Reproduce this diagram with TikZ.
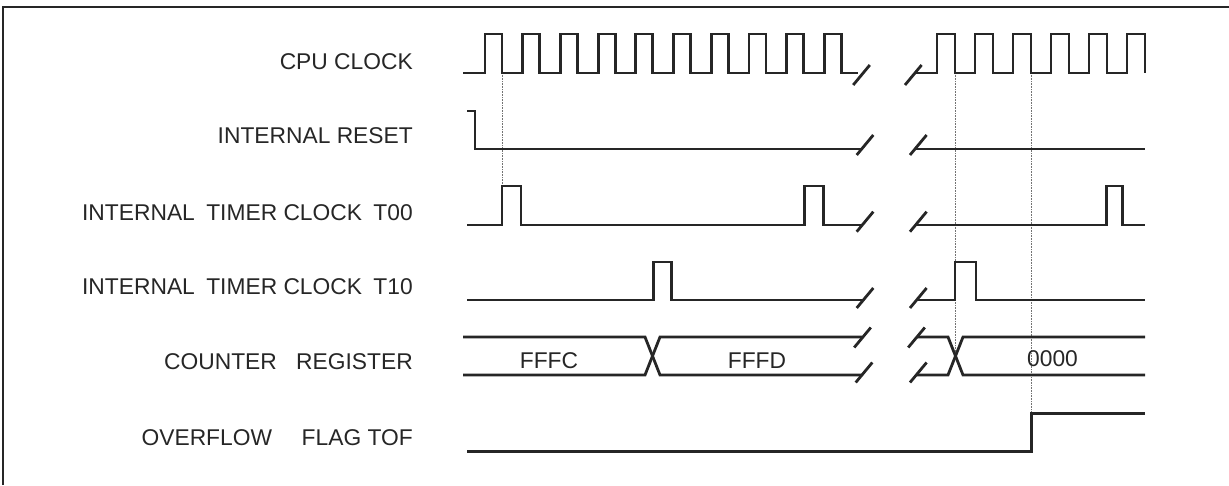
\documentclass[tikz,border=0pt]{standalone}
\usepackage{fontspec}
\setmainfont{Liberation Sans}
\begin{document}
\begin{tikzpicture}[x=1pt,y=-1pt,
  sig/.style={line width=2.8pt,color=black!85,line join=miter,line cap=butt},
  brk/.style={line width=2.8pt,color=black!85},
  guide/.style={line width=1pt,color=black!55,dash pattern=on 0.8pt off 0.8pt},
  lbl/.style={anchor=base east,inner sep=0pt,font=\fontsize{22.8}{27}\selectfont,text=black!85},
  val/.style={anchor=base,inner sep=0pt,font=\fontsize{22.8}{27}\selectfont,text=black!85},
  frame/.style={line width=2.8pt,color=black!85}]
\useasboundingbox (0,0) rectangle (1229,485);
\newcommand{\brkmark}[2]{\draw[brk] (#1-8.3,#2+10) -- (#1+8.3,#2-10);}
% frame
\draw[frame] (3,485) -- (3,7) -- (1229,7);
% labels
\node[lbl] (lcpu) at (413,69.5) {CPU CLOCK};
\node[lbl] (lrst) at (413,143.5) {INTERNAL RESET};
\node[lbl] (lt00) at (413,220.5) {INTERNAL\hspace{0.5em}TIMER CLOCK\hspace{0.5em}T00};
\node[lbl] (lt10) at (413,294.5) {INTERNAL\hspace{0.5em}TIMER CLOCK\hspace{0.5em}T10};
\node[lbl] (lcnt) at (413,369.5) {COUNTER\hspace{0.85em}REGISTER};
\node[lbl] (ltof) at (413,445.5) {OVERFLOW\hspace{1.3em}FLAG TOF};
% guides
\draw[guide] (502,73) -- (502,186);
\draw[guide] (955,73) -- (955,356);
\draw[guide] (1031.7,73) -- (1031.7,413);
% CPU clock
\draw[sig] (463,73)
  \foreach \k in {0,...,9} { -- ({485+37.7*\k},73) -- ({485+37.7*\k},34) -- ({502+37.7*\k},34) -- ({502+37.7*\k},73) }
  -- (858,73);
\draw[sig] (916,73)
  \foreach \k in {0,...,5} { -- ({937+38*\k},73) -- ({937+38*\k},34) -- ({955+38*\k},34) -- ({955+38*\k},73) };
\brkmark{861.5}{75}
\brkmark{913.3}{75}
% internal reset
\draw[sig] (467,111) -- (475,111) -- (475,149) -- (861,149);
\draw[sig] (915,149) -- (1145,149);
\brkmark{865}{145}
\brkmark{918.3}{145}
% T00
\draw[sig] (467,225) -- (502,225) -- (502,186) -- (521,186) -- (521,225)
  -- (804.3,225) -- (804.3,186) -- (823.3,186) -- (823.3,225) -- (861,225);
\draw[sig] (915,225) -- (1106.7,225) -- (1106.7,186) -- (1122.7,186) -- (1122.7,225) -- (1145,225);
\brkmark{865}{221.7}
\brkmark{918.3}{221.7}
% T10
\draw[sig] (467,300) -- (653.3,300) -- (653.3,262) -- (671.7,262) -- (671.7,300) -- (862,300);
\draw[sig] (916,300) -- (955,300) -- (955,262) -- (976,262) -- (976,300) -- (1145,300);
\brkmark{865}{298}
\brkmark{918.3}{298}
% counter register
\draw[sig] (463,337) -- (645,337) -- (660,375) -- (862,375);
\draw[sig] (463,375) -- (645,375) -- (660,337) -- (862,337);
\draw[sig] (917,337) -- (948,337) -- (963,375) -- (1145,375);
\draw[sig] (917,375) -- (948,375) -- (963,337) -- (1145,337);
\brkmark{862.5}{337.5}
\brkmark{864}{372.5}
\brkmark{916.5}{337.5}
\brkmark{918.3}{372.5}
\node[val] (vfffc) at (549,368) {FFFC};
\node[val] (vfffd) at (757,368) {FFFD};
\node[val] (v0000) at (1052.5,366) {0000};
% overflow flag
\draw[sig] (467,451.7) -- (1031.7,451.7) -- (1031.7,413.3) -- (1145,413.3);
\end{tikzpicture}
\end{document}
